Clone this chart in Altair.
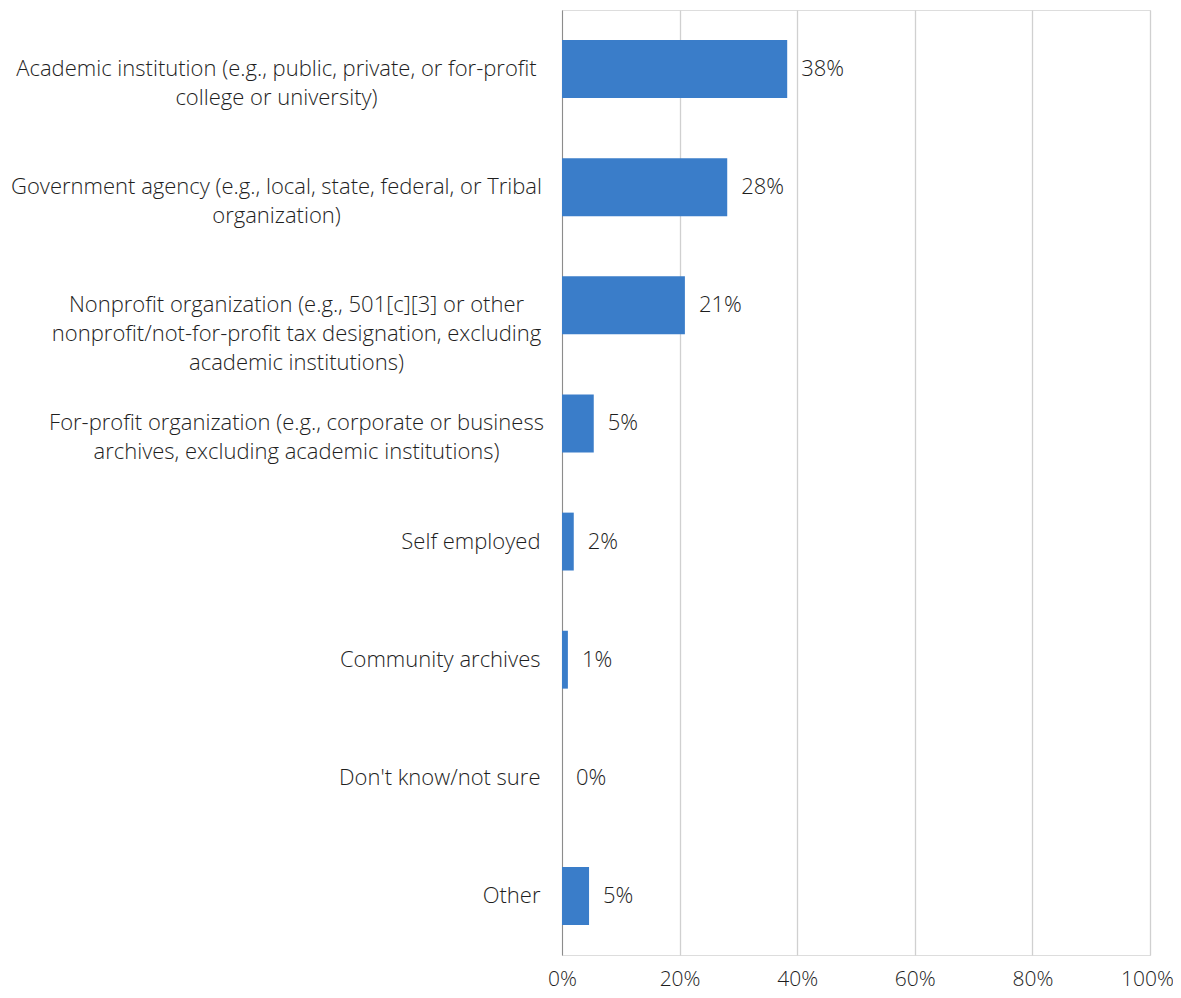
import altair as alt
import pandas as pd

categories = [
    "Academic institution (e.g., public, private, or for-profit\ncollege or university)",
    "Government agency (e.g., local, state, federal, or Tribal\norganization)",
    "Nonprofit organization (e.g., 501[c][3] or other\nnonprofit/not-for-profit tax designation, excluding\nacademic institutions)",
    "For-profit organization (e.g., corporate or business\narchives, excluding academic institutions)",
    "Self employed",
    "Community archives",
    "Don't know/not sure",
    "Other",
]
shares = [0.383, 0.281, 0.209, 0.054, 0.020, 0.010, 0.0, 0.046]
x_ticks = [0, 0.2, 0.4, 0.6, 0.8, 1.0]

df = pd.DataFrame({"category": categories, "share": shares})

FONT = "Open Sans, sans-serif"
TEXT = "#1e1e1e"
FS = 22
FW = 300

# wrapped labels are centred line by line in a block that ends 22px left of the axis
MULTI = "indexof(datum.label, '\\n') >= 0"
LONG_FIRST = "indexof(datum.label, '\\n') >= 55"

y_enc = alt.Y(
    "category:N",
    sort=categories,
    scale=alt.Scale(paddingInner=0.51, paddingOuter=0.255),
    axis=alt.Axis(
        title=None,
        ticks=False,
        domain=True,
        domainColor="#8c8c8c",
        domainWidth=1,
        labelExpr="split(datum.label, '\\n')",
        labelFont=FONT,
        labelFontSize=FS,
        labelFontWeight=FW,
        labelColor=TEXT,
        labelLineHeight=29,
        labelLimit=0,
        labelBaseline="middle",
        labelAlign={"condition": {"test": MULTI, "value": "center"}, "value": "right"},
        labelPadding={
            "condition": [
                {"test": LONG_FIRST, "value": 286},
                {"test": MULTI, "value": 266},
            ],
            "value": 22,
        },
        grid=False,
    ),
)

x_enc = alt.X(
    "share:Q",
    scale=alt.Scale(domain=[0, 1], nice=False),
    axis=alt.Axis(
        title=None,
        values=x_ticks,
        format=".0%",
        ticks=False,
        domain=False,
        grid=True,
        gridColor="#d0d0d0",
        gridWidth=1.3,
        labelFont=FONT,
        labelFontSize=21,
        labelFontWeight=FW,
        labelColor=TEXT,
        labelBaseline="alphabetic",
        labelPadding=30,
        labelFlush=False,
        labelOffset={"condition": {"test": "datum.value === 1", "value": -3}, "value": 0},
    ),
)

bars = alt.Chart(df).mark_bar(color="#3a7dc9").encode(x=x_enc, y=y_enc)

labels = alt.Chart(df).mark_text(
    align="left", baseline="middle", dx=14, font=FONT, fontSize=FS, fontWeight=FW, color=TEXT
).encode(
    x=alt.X("share:Q"),
    y=alt.Y("category:N", sort=categories),
    text=alt.Text("share:Q", format=".0%"),
)

chart = (
    alt.layer(bars, labels)
    .properties(
        width=588,
        height=945,
        autosize=alt.AutoSizeParams(type="none"),
        padding={"left": 554, "top": 2, "right": 23, "bottom": 35},
    )
    .configure_view(stroke=None)
    .configure(background="white")
)

chart.save("out.html", embed_options={"renderer": "svg", "actions": False})
